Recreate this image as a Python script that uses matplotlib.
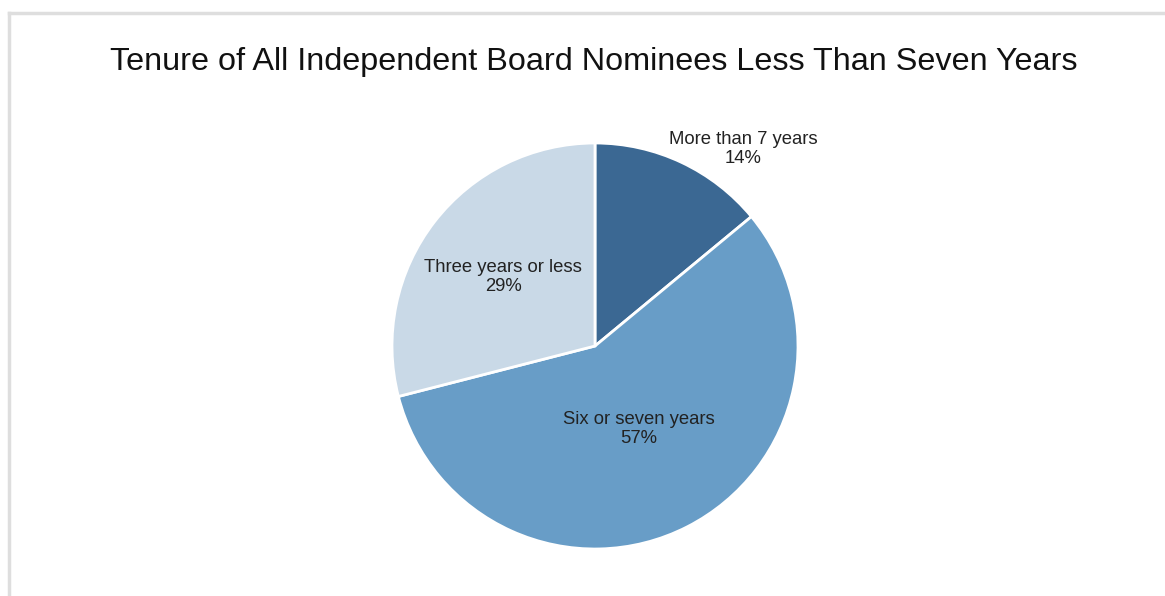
import matplotlib.pyplot as plt
from matplotlib.lines import Line2D

# data
labels = ['More than 7 years', 'Six or seven years', 'Three years or less']
shares = [14, 57, 29]
colors = ['#3b6893', '#689dc7', '#c9d9e7']

W, H = 1165, 596
fig = plt.figure(figsize=(W / 100, H / 100), dpi=100)
plt.rcParams['font.family'] = ['Liberation Sans', 'DejaVu Sans']

# pie center and radius in pixels
cx, cy, r = 595, 346, 203
ax = fig.add_axes([(cx - r) / W, (H - cy - r) / H, 2 * r / W, 2 * r / H])
ax.pie(shares, colors=colors, startangle=90, counterclock=False, radius=1,
       wedgeprops=dict(edgecolor='white', linewidth=2))
ax.set_xlim(-1, 1)
ax.set_ylim(-1, 1)
ax.set_aspect('equal')
ax.axis('off')

# label placement (pixel centres)
label_pos = [(743, 149), (639, 429), (503, 277)]
for lab, val, (px, py) in zip(labels, shares, label_pos):
    ax.text((px - cx) / r, (cy - py) / r, f'{lab}\n{val}%', ha='center', va='center',
            fontsize=13.3, color='#222222', linespacing=1.2)

fig.text(594 / W, 1 - 62 / H, 'Tenure of All Independent Board Nominees Less Than Seven Years',
         ha='center', va='center', fontsize=23.3, color='#111111')

# light frame at top and left
fig.add_artist(Line2D([9 / W, 1], [1 - 13 / H, 1 - 13 / H], color='#dedede', linewidth=2.5))
fig.add_artist(Line2D([9 / W, 9 / W], [0, 1 - 13 / H], color='#dedede', linewidth=2.5))

fig.savefig('out.png', dpi=100)
